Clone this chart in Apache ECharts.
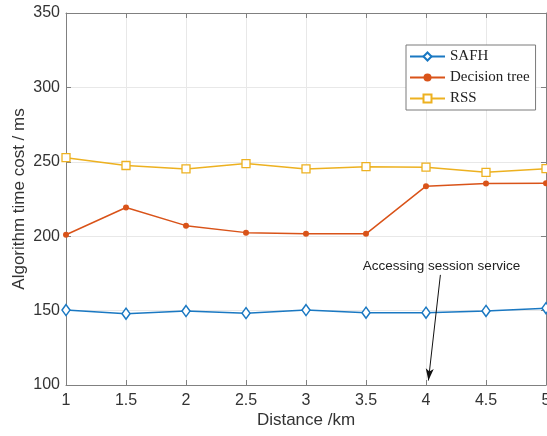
<!DOCTYPE html>
<html>
<head>
<meta charset="utf-8">
<script src="https://cdn.jsdelivr.net/npm/echarts@6/dist/echarts.min.js"></script>
<style>
html,body{margin:0;padding:0;background:#fff;}
#main{width:547px;height:436px;}
</style>
</head>
<body>
<div id="main"></div>
<script>
var distance = [1, 1.5, 2, 2.5, 3, 3.5, 4, 4.5, 5];
var safh  = [150.4, 147.9, 149.7, 148.3, 150.4, 148.6, 148.6, 149.8, 151.6];
var dtree = [201.0, 219.3, 207.1, 202.4, 201.6, 201.6, 233.6, 235.4, 235.6];
var rss   = [252.8, 247.5, 245.2, 248.8, 245.2, 246.7, 246.4, 242.9, 245.4];
var yTicks = [100, 150, 200, 250, 300, 350];
var note = 'Accessing session service';

function pairs(v){
    var out = [];
    for (var i = 0; i < distance.length; i++) out.push([distance[i], v[i]]);
    return out;
}

var tickFont = {fontFamily:'Liberation Sans', fontSize:16, color:'#333'};
var axisLine = {show:true, lineStyle:{color:'#808080', width:1}};
var gridLine = {show:true, lineStyle:{color:'#e8e8e8', width:1}};

var myChart = echarts.init(document.getElementById('main'));
var option = {
    animation:false,
    backgroundColor:'#fff',
    grid:{left:66, right:1, top:13, bottom:51, outerBoundsMode:'none', containLabel:false},
    legend:{
        orient:'vertical',
        left:406, top:45,
        padding:[4,6,4,3],
        itemWidth:35, itemHeight:10, itemGap:6,
        borderColor:'#7a7a7a', borderWidth:1,
        backgroundColor:'#fff',
        textStyle:{fontFamily:'Liberation Serif', fontSize:15, color:'#222'},
        data:['SAFH','Decision tree','RSS']
    },
    xAxis:[{
        type:'value', min:1, max:5, interval:0.5,
        name:'Distance /km', nameLocation:'middle', nameGap:27, nameMoveOverlap:false,
        nameTextStyle:{fontFamily:'Liberation Sans', fontSize:17, color:'#333'},
        axisLine:axisLine,
        axisTick:{show:true, inside:true, length:5, lineStyle:{color:'#808080'}},
        axisLabel:Object.assign({margin:8}, tickFont),
        splitLine:gridLine
    },{
        type:'value', min:1, max:5, interval:0.5, position:'top',
        axisLine:axisLine,
        axisTick:{show:true, inside:true, length:5, lineStyle:{color:'#808080'}},
        axisLabel:{show:false}, splitLine:{show:false}
    }],
    yAxis:[{
        type:'value', min:yTicks[0], max:yTicks[yTicks.length-1], interval:50,
        name:'Algorithm time cost / ms', nameLocation:'middle', nameGap:38, nameMoveOverlap:false,
        nameTextStyle:{fontFamily:'Liberation Sans', fontSize:17, color:'#333'},
        axisLine:axisLine,
        axisTick:{show:true, inside:true, length:5, lineStyle:{color:'#808080'}},
        axisLabel:Object.assign({margin:6}, tickFont),
        splitLine:gridLine
    },{
        type:'value', min:yTicks[0], max:yTicks[yTicks.length-1], interval:50, position:'right',
        axisLine:axisLine,
        axisTick:{show:true, inside:true, length:5, lineStyle:{color:'#808080'}},
        axisLabel:{show:false}, splitLine:{show:false}
    }],
    series:[
        {
            name:'SAFH', type:'line', data:pairs(safh),
            symbol:'diamond', symbolSize:[8,11],
            itemStyle:{color:'#fff', borderColor:'#1a78c2', borderWidth:1.5},
            lineStyle:{color:'#1a78c2', width:1.5},
            markLine:{
                silent:true, symbol:['none','arrow'], symbolSize:[6,12],
                lineStyle:{color:'#111', width:1, type:'solid'},
                label:{show:false},
                data:[[{coord:[4.12,174]},{coord:[4.02,103]}]]
            }
        },
        {
            name:'Decision tree', type:'line', data:pairs(dtree),
            symbol:'circle', symbolSize:6,
            itemStyle:{color:'#D95319'},
            lineStyle:{color:'#D95319', width:1.5}
        },
        {
            name:'RSS', type:'line', data:pairs(rss),
            symbol:'rect', symbolSize:8,
            itemStyle:{color:'#fff', borderColor:'#EDB120', borderWidth:1.3},
            lineStyle:{color:'#EDB120', width:1.5}
        }
    ]
};
myChart.setOption(option);

// annotation text placed in data space
var p = myChart.convertToPixel({xAxisIndex:0, yAxisIndex:0}, [4.13, 180]);
myChart.setOption({
    graphic:[{
        type:'text', x:p[0], y:p[1],
        style:{text:note, fontFamily:'Liberation Sans', fontSize:13.5, fill:'#222',
               align:'center', verticalAlign:'middle'}
    }]
});
</script>
</body>
</html>
